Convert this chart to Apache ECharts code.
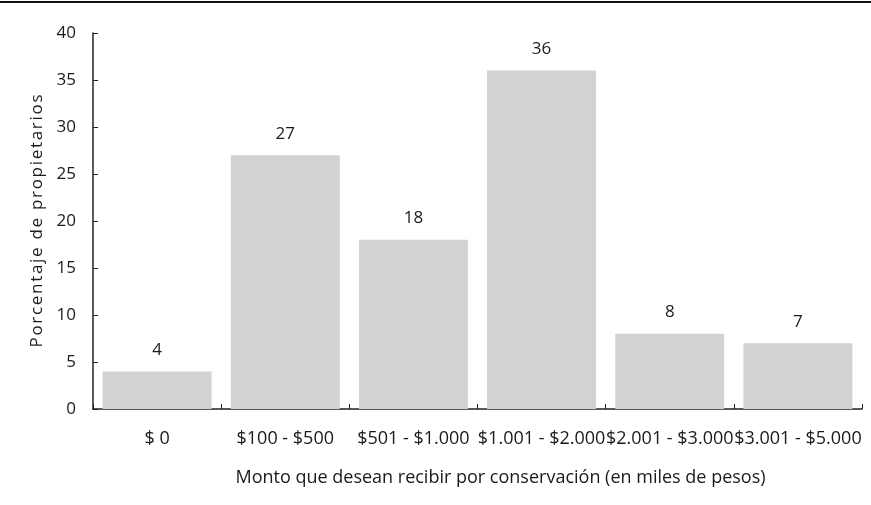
<!DOCTYPE html>
<html>
<head>
<meta charset="utf-8">
<script src="https://cdn.jsdelivr.net/npm/echarts@6/dist/echarts.min.js"></script>
<style>
    html, body {margin: 0; padding: 0; background: #fff;}
    #chart {width: 871px; height: 505px;}
</style>
</head>
<body>
<div id="chart"></div>
<script type="text/javascript">
    // datos del gráfico
    var categorias = ['$ 0', '$100 - $500', '$501 - $1.000', '$1.001 - $2.000', '$2.001 - $3.000', '$3.001 - $5.000'];
    var porcentajes = [4, 27, 18, 36, 8, 7];
    var ejeY = {min: 0, max: 40, interval: 5};
    var tituloX = 'Monto que desean recibir por conservación (en miles de pesos)';
    var tituloY = 'Porcentaje de propietarios';

    var myChart = echarts.init(document.getElementById('chart'), null, {renderer: 'canvas'});
    var fuente = '"Open Sans", "Noto Sans", sans-serif';
    var option = {
        animation: false,
        textStyle: {fontFamily: fuente},
        graphic: [{
            type: 'line',
            shape: {x1: 0, y1: 2, x2: 871, y2: 2},
            style: {stroke: '#111', lineWidth: 2}
        }],
        grid: {left: 93, right: 9, top: 33, bottom: 96},
        xAxis: {
            type: 'category',
            data: categorias,
            name: tituloX,
            nameLocation: 'middle',
            nameGap: 60,
            // el título está algo desplazado a la derecha
            nameTextStyle: {fontSize: 18, color: '#1a1a1a', fontFamily: fuente, padding: [0, 0, 0, 46]},
            axisLine: {lineStyle: {color: '#222', width: 1.5}},
            axisTick: {show: true, inside: true, length: 5, lineStyle: {color: '#222'}},
            axisLabel: {fontSize: 18, color: '#1a1a1a', margin: 21, interval: 0, fontFamily: fuente}
        },
        yAxis: {
            type: 'value',
            min: ejeY.min,
            max: ejeY.max,
            interval: ejeY.interval,
            // espaciado entre letras como en el original
            name: tituloY.split('').join('\u200a'),
            nameLocation: 'middle',
            nameGap: 46,
            nameRotate: 90,
            nameTextStyle: {fontSize: 17, color: '#1a1a1a', fontFamily: fuente},
            splitLine: {show: false},
            axisLine: {show: true, lineStyle: {color: '#222', width: 1.5}},
            axisTick: {show: true, inside: true, length: 5, lineStyle: {color: '#222'}},
            axisLabel: {fontSize: 17, color: '#1a1a1a', margin: 17, fontFamily: fuente}
        },
        series: [{
            type: 'bar',
            data: porcentajes,
            barCategoryGap: '15%',
            itemStyle: {color: '#d1d2d4'},
            label: {
                show: true,
                position: 'top',
                distance: 13,
                fontSize: 17,
                color: '#1a1a1a',
                fontFamily: fuente
            }
        }]
    };
    myChart.setOption(option);
</script>
</body>
</html>
